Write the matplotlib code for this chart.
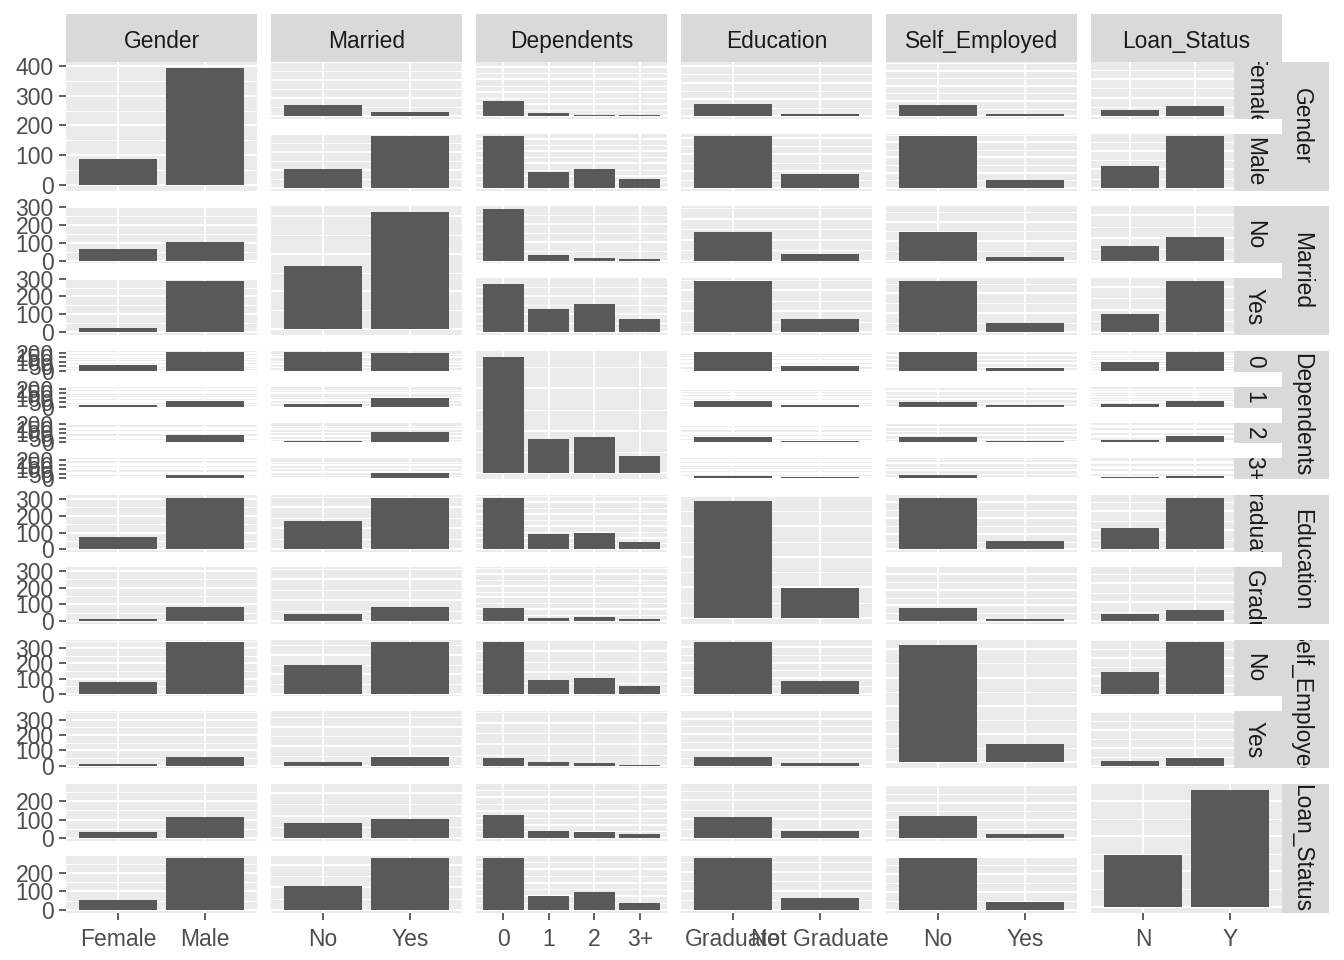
import numpy as np
import matplotlib.pyplot as plt
from matplotlib.ticker import MaxNLocator

plt.rcParams['font.family'] = ['Liberation Sans', 'DejaVu Sans']

variables = ['Gender', 'Married', 'Dependents', 'Education', 'Self_Employed', 'Loan_Status']
levels = {
    'Gender': ['Female', 'Male'],
    'Married': ['No', 'Yes'],
    'Dependents': ['0', '1', '2', '3+'],
    'Education': ['Graduate', 'Not Graduate'],
    'Self_Employed': ['No', 'Yes'],
    'Loan_Status': ['N', 'Y'],
}

# single variable counts (diagonal)
gender_n = [86, 394]
married_n = [169, 311]
dependents_n = [274, 80, 85, 41]
education_n = [383, 97]
selfemp_n = [414, 66]
loan_n = [148, 332]

# crosstabs, rows = first variable, columns = second variable
gender_married = [[63, 23], [106, 288]]
gender_dependents = [[63, 14, 6, 3], [211, 66, 79, 38]]
gender_education = [[75, 11], [308, 86]]
gender_selfemp = [[75, 11], [339, 55]]
gender_loan = [[32, 54], [116, 278]]
married_dependents = [[141, 16, 8, 4], [133, 64, 77, 37]]
married_education = [[137, 32], [246, 65]]
married_selfemp = [[149, 20], [265, 46]]
married_loan = [[65, 104], [83, 228]]
dependents_education = [[218, 56], [66, 14], [68, 17], [31, 10]]
dependents_selfemp = [[241, 33], [64, 16], [72, 13], [37, 4]]
dependents_loan = [[85, 189], [28, 52], [21, 64], [14, 27]]
education_selfemp = [[330, 53], [84, 13]]
education_loan = [[112, 271], [36, 61]]
selfemp_loan = [[124, 290], [24, 42]]

diag = dict(zip(variables, [gender_n, married_n, dependents_n, education_n, selfemp_n, loan_n]))
pairs = {
    ('Gender', 'Married'): gender_married,
    ('Gender', 'Dependents'): gender_dependents,
    ('Gender', 'Education'): gender_education,
    ('Gender', 'Self_Employed'): gender_selfemp,
    ('Gender', 'Loan_Status'): gender_loan,
    ('Married', 'Dependents'): married_dependents,
    ('Married', 'Education'): married_education,
    ('Married', 'Self_Employed'): married_selfemp,
    ('Married', 'Loan_Status'): married_loan,
    ('Dependents', 'Education'): dependents_education,
    ('Dependents', 'Self_Employed'): dependents_selfemp,
    ('Dependents', 'Loan_Status'): dependents_loan,
    ('Education', 'Self_Employed'): education_selfemp,
    ('Education', 'Loan_Status'): education_loan,
    ('Self_Employed', 'Loan_Status'): selfemp_loan,
}


def table(a, b):
    if (a, b) in pairs:
        return np.array(pairs[(a, b)])
    return np.array(pairs[(b, a)]).T


W, H = 1344, 960
fig = plt.figure(figsize=(W / 100, H / 100), dpi=100)


def px_axes(x, y, w, h):
    return fig.add_axes([x / W, 1 - (y + h) / H, w / W, h / H])


BG = '#EBEBEB'
BAR = '#595959'
STRIP = '#D9D9D9'
TXT = '#1A1A1A'
TICKTXT = '#4D4D4D'
FS_STRIP = 16.4
FS_TICK = 16.5

col_x = [66 + 205 * j for j in range(6)]
row_y = [62 + 144.4 * i for i in range(6)]
pw, ph = 191, 128.5
gap = 15


def style(ax, top, ncat, left_lab, bottom_lab, cats):
    lo, hi = -0.05 * top, 1.05 * top
    ax.set_ylim(lo, hi)
    ax.set_xlim(-0.6, ncat - 0.4)
    major = [t for t in MaxNLocator(nbins=5, steps=[1, 2, 5, 10]).tick_values(lo, hi) if lo <= t <= hi]
    step = major[1] - major[0]
    minor = [t + step / 2 for t in [major[0] - step] + major]
    minor = [t for t in minor if lo <= t <= hi]
    ax.set_yticks(major)
    ax.set_yticks(minor, minor=True)
    ax.set_xticks(range(ncat))
    ax.set_facecolor(BG)
    for s in ax.spines.values():
        s.set_visible(False)
    ax.set_axisbelow(True)
    ax.grid(True, which='major', color='white', lw=1.4)
    ax.grid(True, which='minor', axis='y', color='white', lw=0.7)
    ax.tick_params(which='minor', length=0)
    if left_lab:
        ax.set_yticklabels([str(int(t)) for t in major])
        ax.tick_params(axis='y', which='major', length=4.8, width=1.1, color='#333333',
                       labelsize=FS_TICK, labelcolor=TICKTXT, pad=4)
    else:
        ax.set_yticklabels([])
        ax.tick_params(axis='y', which='major', length=0)
    if bottom_lab:
        ax.set_xticklabels(cats)
        ax.tick_params(axis='x', which='major', length=4.8, width=1.1, color='#333333',
                       labelsize=FS_TICK, labelcolor=TICKTXT, pad=6)
    else:
        ax.set_xticklabels([])
        ax.tick_params(axis='x', which='major', length=0)


def strip(x, y, w, h, text, rot):
    ax = px_axes(x, y, w, h)
    ax.set_facecolor(STRIP)
    ax.set_xticks([])
    ax.set_yticks([])
    for s in ax.spines.values():
        s.set_visible(False)
    if rot == 0:
        ax.text(0.5, 0.42, text, transform=ax.transAxes, ha='center', va='center',
                fontsize=FS_STRIP, color=TXT, clip_on=True)
    else:
        ax.text(0.42, 0.5, text, transform=ax.transAxes, ha='center', va='center',
                rotation=rot, fontsize=FS_STRIP, color=TXT, clip_on=True)


for i, rv in enumerate(variables):
    for j, cv in enumerate(variables):
        cats = levels[cv]
        x0, y0 = col_x[j], row_y[i]
        if i == j:
            ax = px_axes(x0, y0, pw, ph)
            vals = diag[cv]
            ax.bar(range(len(cats)), vals, width=0.9, color=BAR)
            style(ax, max(vals), len(cats), j == 0, i == 5, cats)
            continue
        tab = table(rv, cv)
        nsub = tab.shape[0]
        sh = (ph - gap * (nsub - 1)) / nsub
        w = pw if j < 5 else 1234 - col_x[5]
        for k in range(nsub):
            sy = y0 + k * (sh + gap)
            ax = px_axes(x0, sy, w, sh)
            ax.bar(range(len(cats)), tab[k], width=0.9, color=BAR)
            style(ax, tab.max(), len(cats), j == 0, (i == 5 and k == nsub - 1), cats)
            if j == 5:
                strip(1234, sy, 48, sh, levels[rv][k], 270)

# top strips
for j, v in enumerate(variables):
    strip(col_x[j], 14, pw, 48, v, 0)

# right strips
for i, v in enumerate(variables):
    strip(1282, row_y[i], 47, ph, v, 270)

fig.savefig('out.png', dpi=100)
